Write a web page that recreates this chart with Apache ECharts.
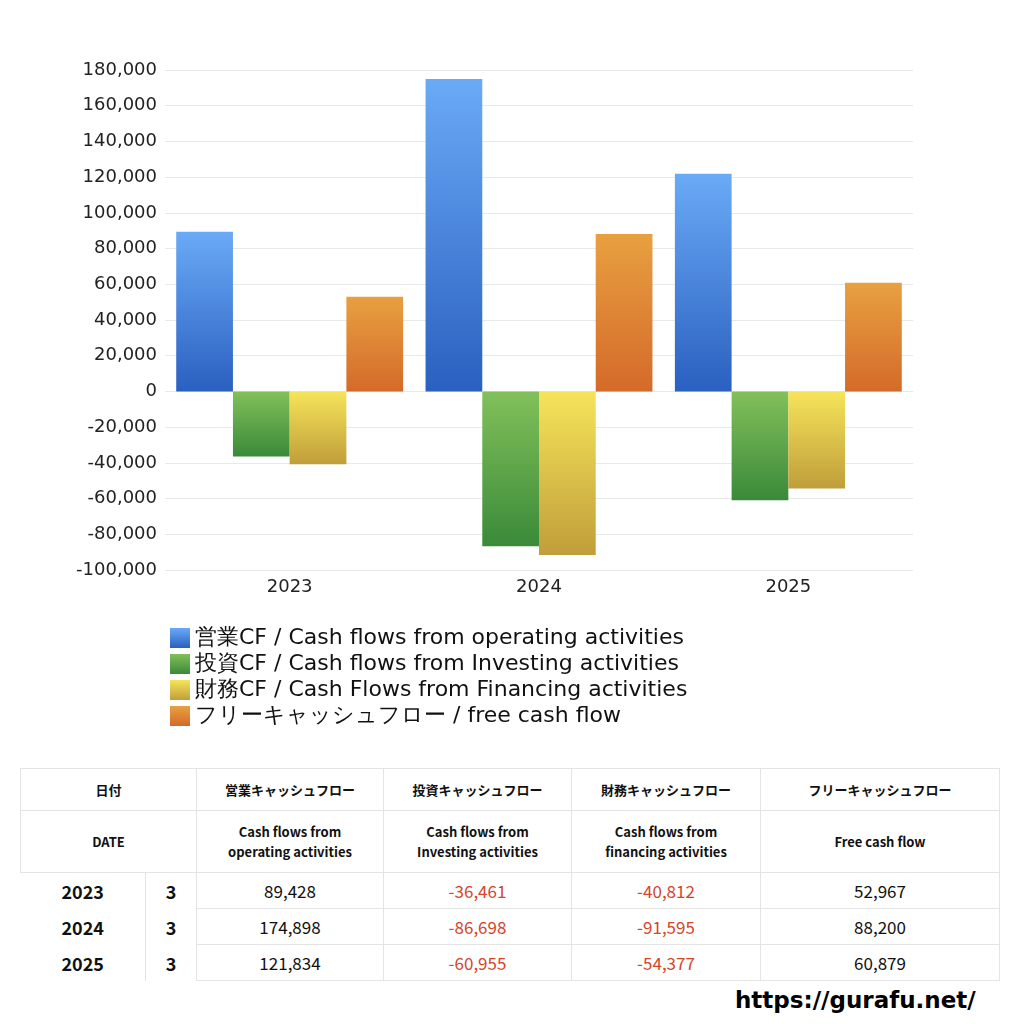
<!DOCTYPE html>
<html><head><meta charset="utf-8">
<script src="https://cdn.jsdelivr.net/npm/echarts@6/dist/echarts.min.js"></script>
<style>
body{margin:0;background:#fff;font-family:"Noto Sans CJK JP","Noto Sans",sans-serif;}
#c{position:absolute;left:0;top:0;width:1024px;height:740px;}
table{position:absolute;left:20px;top:768px;width:980px;border-collapse:collapse;table-layout:fixed;font-size:13px;color:#111;}
td{border:1px solid #e4e4e4;text-align:center;padding:0;}
.h1 td{height:41px;font-weight:bold;}
.h2 td{height:61px;font-weight:bold;line-height:20px;}
.d td{height:35px;font-size:17px;}
.d td.y{font-weight:bold;font-size:18px;border:none;}
.neg{color:#d4452b;}
#url{position:absolute;left:735px;top:987px;font-size:23px;font-weight:bold;font-family:"DejaVu Sans",sans-serif;}
</style></head><body>
<div id="c"></div>
<table>
<colgroup><col style="width:125px"><col style="width:51px"><col style="width:187px"><col style="width:188px"><col style="width:189px"><col></colgroup>
<tr class="h1"><td colspan="2">日付</td><td>営業キャッシュフロー</td><td>投資キャッシュフロー</td><td>財務キャッシュフロー</td><td>フリーキャッシュフロー</td></tr>
<tr class="h2"><td colspan="2">DATE</td><td>Cash flows from<br>operating activities</td><td>Cash flows from<br>Investing activities</td><td>Cash flows from<br>financing activities</td><td>Free cash flow</td></tr>
<tbody id="tb"></tbody>
</table>
<div id="url">https://gurafu.net/</div>
<script>
const years=['2023','2024','2025'];
const months=['3','3','3'];
const operating=[89428,174898,121834];
const investingCF=[-36461,-86698,-60955];
const financingCF=[-40812,-91595,-54377];
const freeCF=[52967,88200,60879];
const names=['営業CF / Cash flows from operating activities','投資CF / Cash flows from Investing activities','財務CF / Cash Flows from Financing activities','フリーキャッシュフロー / free cash flow'];
const fmt=v=>v.toLocaleString('en-US');
let rows='';
years.forEach((y,i)=>{
 rows+=`<tr class="d"><td class="y">${y}</td><td class="y" style="border-left:1px solid #e4e4e4">${months[i]}</td><td>${fmt(operating[i])}</td><td class="neg">${fmt(investingCF[i])}</td><td class="neg">${fmt(financingCF[i])}</td><td>${fmt(freeCF[i])}</td></tr>`;
});
document.getElementById('tb').innerHTML=rows;
const g=(a,b)=>new echarts.graphic.LinearGradient(0,0,0,1,[{offset:0,color:a},{offset:1,color:b}]);
const cols=[['#6aaaf6','#2a60c0'],['#82c05a','#3a8a3a'],['#f6e45a','#c09e3a'],['#e8a040','#d46a2a']];
const data=[operating,investingCF,financingCF,freeCF];
const chart=echarts.init(document.getElementById('c'));
chart.setOption({
 animation:false,
 grid:{left:165,right:111,top:70,height:500},
 xAxis:{type:'category',data:years,axisLine:{show:false},axisTick:{show:false},axisLabel:{fontSize:18,color:'#222',margin:8,fontFamily:'DejaVu Sans'}},
 yAxis:{type:'value',min:-100000,max:180000,interval:20000,axisLabel:{fontSize:18,color:'#222',fontFamily:'DejaVu Sans',formatter:v=>fmt(v)},splitLine:{lineStyle:{color:'#e8e8e8'}}},
 legend:{orient:'vertical',left:165,top:622,itemWidth:20,itemHeight:20,itemGap:4,textStyle:{fontSize:22,color:'#111',fontFamily:'DejaVu Sans'},icon:'rect'},
 series:data.map((d,i)=>({type:'bar',name:names[i],data:d,barGap:'0%',barCategoryGap:'9%',itemStyle:{color:g(cols[i][0],cols[i][1])}}))
});
</script>
</body></html>
